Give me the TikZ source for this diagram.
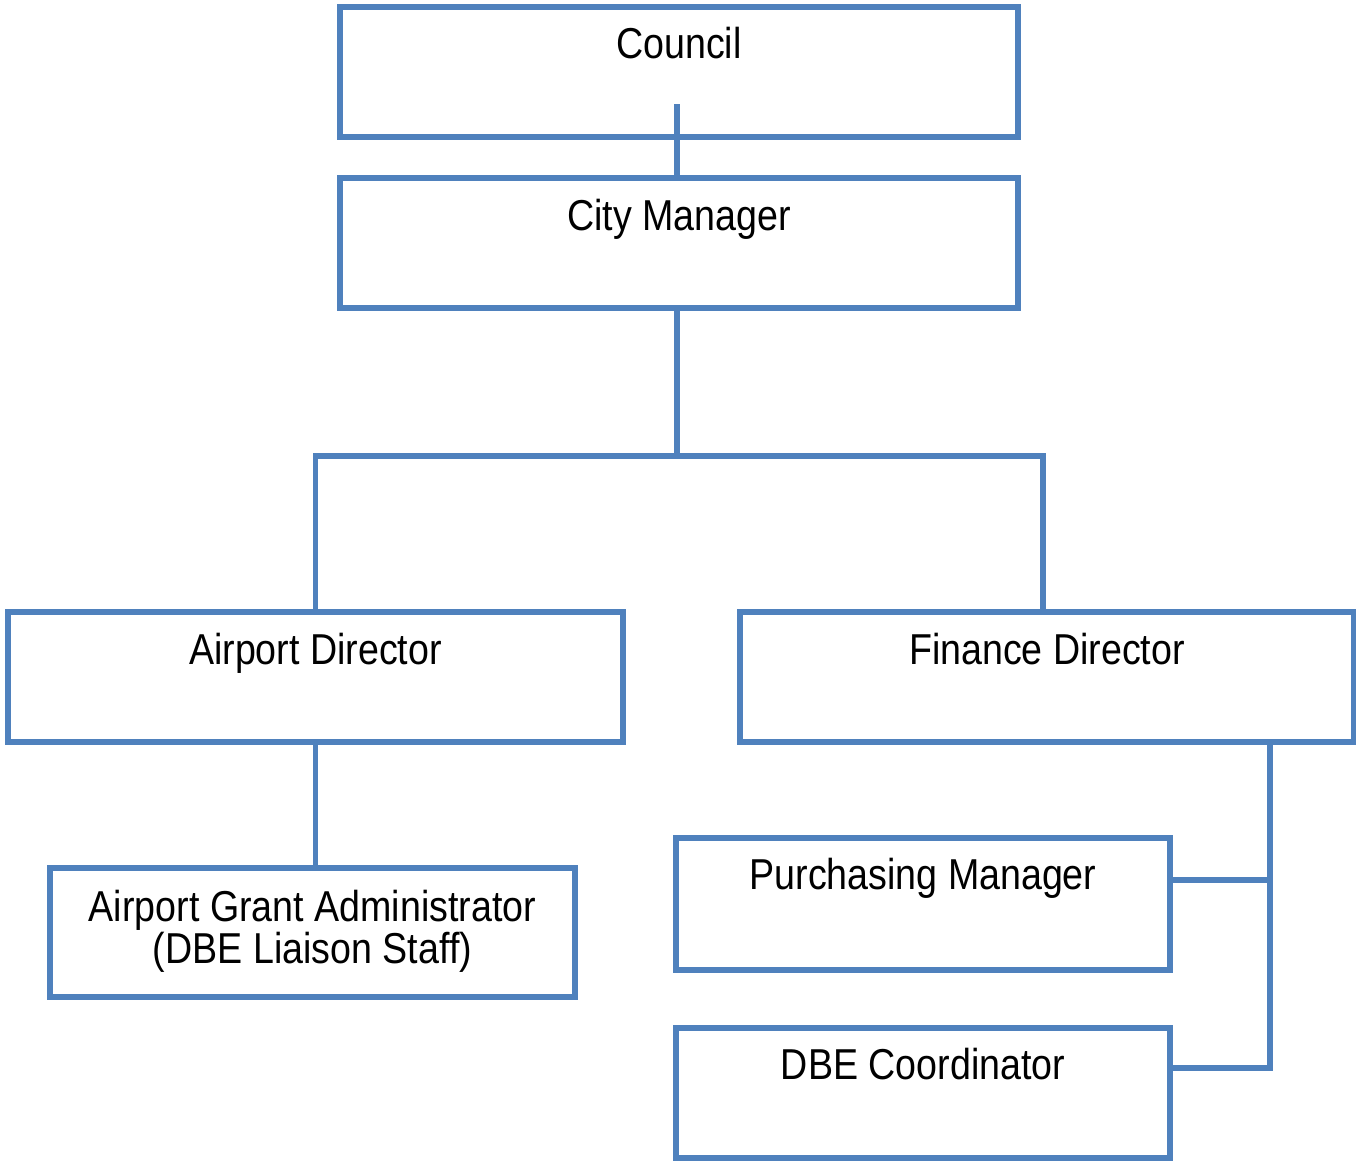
\documentclass[tikz,border=0pt]{standalone}
\usepackage{fontspec}
\setmainfont{Liberation Sans}
\usepackage{tikz}
\definecolor{boxblue}{HTML}{4F81BD}

\begin{document}
\begin{tikzpicture}[
  box/.style={draw=boxblue,line width=3pt,rectangle,inner sep=0pt},
  lbl/.style={anchor=base,inner sep=0pt,yscale=1.15,align=center,
    font=\fontsize{21.4}{19}\selectfont},
  link/.style={draw=boxblue,line width=3pt}
]
\useasboundingbox (0,0) rectangle (27.12,-23.22);

% --- cajas ---
\node[box,minimum width=13.56cm,minimum height=2.6cm] (council) at (13.58,-1.44) {};
\node[box,minimum width=13.56cm,minimum height=2.6cm] (cm) at (13.58,-4.86) {};
\node[box,minimum width=12.3cm,minimum height=2.6cm] (ad) at (6.31,-13.54) {};
\node[box,minimum width=12.28cm,minimum height=2.6cm] (fd) at (20.94,-13.54) {};
\node[box,minimum width=10.5cm,minimum height=2.58cm] (ag) at (6.25,-18.65) {};
\node[box,minimum width=9.88cm,minimum height=2.64cm] (pm) at (18.46,-18.08) {};
\node[box,minimum width=9.88cm,minimum height=2.6cm] (dc) at (18.46,-21.86) {};

% textos, arriba en cada caja (base = ultima linea)
\node[lbl] (councilt) at ([yshift=-1.08cm]council.north) {Council};
\node[lbl] (cmt) at ([yshift=-1.1cm]cm.north) {City Manager};
\node[lbl] (adt) at ([yshift=-1.1cm]ad.north) {Airport Director};
\node[lbl] (fdt) at ([yshift=-1.1cm]fd.north) {Finance Director};
\node[lbl] (agt) at ([yshift=-1.96cm]ag.north) {Airport Grant Administrator\\(DBE Liaison Staff)};
\node[lbl] (pmt) at ([yshift=-1.08cm]pm.north) {Purchasing Manager};
\node[lbl] (dct) at ([yshift=-1.08cm]dc.north) {DBE Coordinator};

% --- conexiones ---
\coordinate (cstub) at (13.54,-2.08);
\coordinate (split) at (13.54,-9.12);
\coordinate (fbus) at (25.4,-15);

\draw[link] (cm.north -| cstub) -- (cstub);
\draw[link] (cm.south -| split) -- (split);
\draw[link] (ad.north) -- (ad.north |- split) -- ([xshift=-0.08cm]fd.north |- split)
  -- ([xshift=-0.08cm]fd.north);
\draw[link] (ad.south) -- (ad.south |- ag.north);

% rama de finanzas
\draw[link] (fd.south -| fbus) |- ([yshift=0.5cm]dc.east);
\draw[link] ([yshift=0.48cm]pm.east) -- ([yshift=0.48cm]pm.east -| fbus);

\end{tikzpicture}
\end{document}
